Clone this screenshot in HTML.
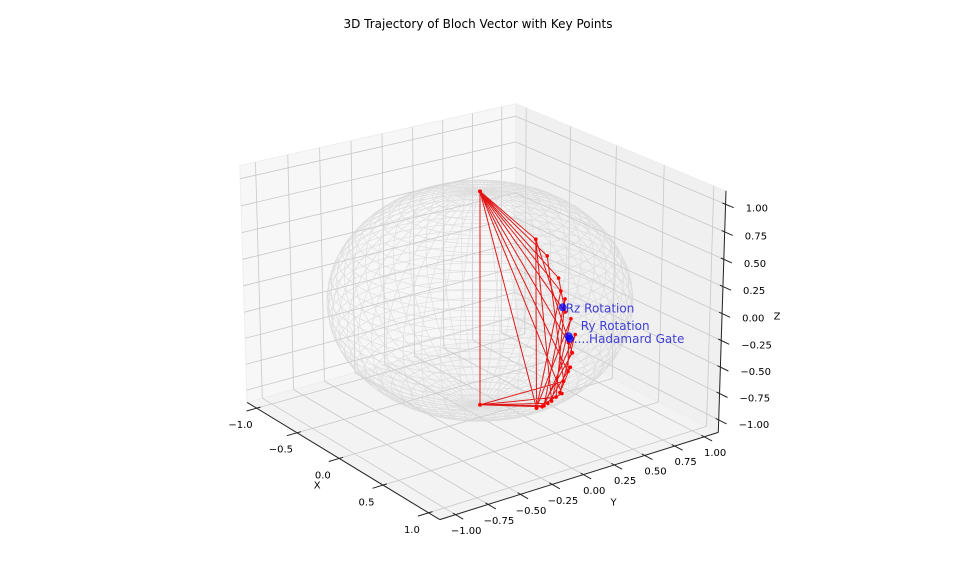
<!DOCTYPE html>
<html><head><meta charset="utf-8">
<style>
html,body{margin:0;padding:0;background:#fff;}
svg{display:block;font-family:"DejaVu Sans","Liberation Sans",sans-serif;}
</style></head>
<body>
<svg id="chart" width="956" height="564" viewBox="0 0 956 564">
<text x="478" y="28" text-anchor="middle" font-size="12" fill="#000">3D Trajectory of Bloch Vector with Key Points</text>
</svg>
<script>
// ---- data ----
const xTicks = [-1.0, -0.5, 0.0, 0.5, 1.0];
const xTickLabels = ["−1.0", "−0.5", "0.0", "0.5", "1.0"];
const yTicks = [-1.0, -0.75, -0.5, -0.25, 0.0, 0.25, 0.5, 0.75, 1.0];
const yTickLabels = ["−1.00", "−0.75", "−0.50", "−0.25", "0.00", "0.25", "0.50", "0.75", "1.00"];
const zTicks = [-1.0, -0.75, -0.5, -0.25, 0.0, 0.25, 0.5, 0.75, 1.0];
const zTickLabels = ["−1.00", "−0.75", "−0.50", "−0.25", "0.00", "0.25", "0.50", "0.75", "1.00"];
const trajX = [0,0.6,0.62,0,0.84,0.95,0,1.0,0.96,0,0.86,0.62,0,0.72,0.93,0,0,0.89,0.62,0.97,0.78,0.6,0.99,0.68,0,0.8,0.92,0.7,0.99,0.84,0.97,0.74,0,0.7];
const trajY = [0,0.0,0.0,0,0.0,-0.03,0,-0.04,-0.01,0,0.02,0.0,0,0.0,-0.02,0,0,-0.02,0.0,0,0.0,0.0,0,0.0,0,0.02,-0.01,0.0,0.02,0.02,0,0.0,0,0.0];
const trajZ = [1,0.8,-0.74,1,0.55,0.3,1,0.05,-0.24,1,-0.5,-0.74,1,0.7,-0.34,-1,1,0.46,-0.74,0.24,-0.6,0.8,-0.06,-0.7,-1,-0.56,0.4,-0.68,0.1,-0.5,-0.2,-0.64,-1,-0.68];
const keyNames = ["Rz Rotation", "Ry Rotation", "....Hadamard Gate"];
const keyX = [0.95, 0.99, 1.0];
const keyY = [-0.05, -0.03, -0.03];
const keyZ = [0.35, 0.1, 0.08];

// ---- projection ----
const L = 1.12, D = 17.5;
function rawProj(x,y,z,e,a){
  const W=[x/L, y/L, z/L*0.75];
  const ps=[Math.cos(e)*Math.cos(a), Math.cos(e)*Math.sin(a), Math.sin(e)];
  const eye=[D*ps[0],D*ps[1],D*ps[2]];
  let u=[-ps[1], ps[0], 0]; const n=Math.hypot(u[0],u[1]); u=[u[0]/n,u[1]/n,0];
  const v=[ps[1]*u[2]-ps[2]*u[1], ps[2]*u[0]-ps[0]*u[2], ps[0]*u[1]-ps[1]*u[0]];
  const p=[W[0]-eye[0],W[1]-eye[1],W[2]-eye[2]];
  const xv=p[0]*u[0]+p[1]*u[1]+p[2]*u[2];
  const yv=p[0]*v[0]+p[1]*v[1]+p[2]*v[2];
  const zv=p[0]*ps[0]+p[1]*ps[1]+p[2]*ps[2];
  return [xv/(-zv), yv/(-zv)];
}
const calib=[[-L,-L,-L,247,405],[L,-L,-L,446,522],[L,L,-L,718,433],[L,L,L,720,187],[-L,L,L,520,103],[-L,-L,L,240,158],[L,L,1,720,207],[L,L,-1,720,424]];
function fit(e,a){
  const n=calib.length; let sx=0,sy=0,sX=0,sY=0,sq=0,sc=0;
  const P=calib.map(c=>rawProj(c[0],c[1],c[2],e,a));
  P.forEach((p,i)=>{sx+=p[0];sy+=p[1];sX+=calib[i][3];sY+=calib[i][4];sq+=p[0]*p[0]+p[1]*p[1];sc+=p[0]*calib[i][3]-p[1]*calib[i][4];});
  const s=(sc-(sX*sx-sY*sy)/n)/(sq-(sx*sx+sy*sy)/n);
  const cx=(sX-s*sx)/n, cy=(sY+s*sy)/n;
  let err=0; P.forEach((p,i)=>{err+=(cx+s*p[0]-calib[i][3])**2+(cy-s*p[1]-calib[i][4])**2;});
  return {s,cx,cy,err};
}
let best=null;
for(let ed=12;ed<=32;ed+=0.5){for(let ad=-50;ad<=-20;ad+=0.5){
  const e=ed*Math.PI/180,a=ad*Math.PI/180; const f=fit(e,a);
  if(!best||f.err<best.err){best=Object.assign({e,a},f);}
}}
function P(x,y,z){const p=rawProj(x,y,z,best.e,best.a);return [best.cx+best.s*p[0], best.cy-best.s*p[1]];}

const svg=document.getElementById('chart');
const NS='http://www.w3.org/2000/svg';
function mk(tag,attrs,parent){const el=document.createElementNS(NS,tag);for(const k in attrs)el.setAttribute(k,attrs[k]);(parent||svg).appendChild(el);return el;}
function poly(pts){return pts.map(p=>p[0].toFixed(1)+','+p[1].toFixed(1)).join(' ');}

// panes
const gP=mk('g',{});


const paneL=mk('polygon',{points:poly([P(-L,-L,-L),P(-L,L,-L),P(-L,L,L),P(-L,-L,L)]),fill:'#f7f7f7',stroke:'#eeeeee'},gP);


const paneR=mk('polygon',{points:poly([P(-L,L,-L),P(L,L,-L),P(L,L,L),P(-L,L,L)]),fill:'#f0f0f0',stroke:'#eeeeee'},gP);


const paneF=mk('polygon',{points:poly([P(-L,-L,-L),P(L,-L,-L),P(L,L,-L),P(-L,L,-L)]),fill:'#f3f3f3',stroke:'#eeeeee'},gP);



// grid
const gG=mk('g',{stroke:'#c8c8c8','stroke-width':0.8,fill:'none'});


function seg(a,b,parent,attrs){const l=mk('line',Object.assign({x1:a[0].toFixed(1),y1:a[1].toFixed(1),x2:b[0].toFixed(1),y2:b[1].toFixed(1)},attrs||{}),parent);return l;}
yTicks.forEach(y=>{const l=seg(P(-L,y,-L),P(-L,y,L),gG);
  const f=seg(P(-L,y,-L),P(L,y,-L),gG);});
xTicks.forEach(x=>{const l=seg(P(x,L,-L),P(x,L,L),gG);
  const f=seg(P(x,-L,-L),P(x,L,-L),gG);});
zTicks.forEach(z=>{const l=seg(P(-L,-L,z),P(-L,L,z),gG);
  const r=seg(P(-L,L,z),P(L,L,z),gG);});

// axes lines
const gA=mk('g',{stroke:'#222','stroke-width':1,fill:'none'});


const ax=seg(P(-L,-L,-L),P(L,-L,-L),gA);
const ay=seg(P(L,-L,-L),P(L,L,-L),gA);
const az=seg(P(L,L,-L),P(L,L,L),gA);

function txt(x,y,s,anchor,size,name){const t=mk('text',{x:x.toFixed(1),y:y.toFixed(1),'text-anchor':anchor,'font-size':size,fill:'#000'});t.textContent=s;return t;}
xTicks.forEach((x,i)=>{const a=P(x,-L+0.03,-L),b=P(x,-L-0.08,-L);const t=seg(a,b,gA);
  txt(b[0]-6,b[1]+17,xTickLabels[i],'middle',10,'x-tick-label');});
yTicks.forEach((y,i)=>{const a=P(L-0.03,y,-L),b=P(L+0.08,y,-L);const t=seg(a,b,gA);
  txt(b[0]+3,b[1]+15,yTickLabels[i],'middle',10,'y-tick-label');});
zTicks.forEach((z,i)=>{const a=P(L-0.03,L,z),b=P(L+0.08,L,z);const t=seg(a,b,gA);
  txt(b[0]+12,b[1]+4,zTickLabels[i],'start',10,'z-tick-label');});
const xl=P(0,-L,-L);txt(xl[0]-22,xl[1]+30,'X','middle',10,'x-axis-title');
const yl=P(L,0,-L);txt(yl[0]+30,yl[1]+31,'Y','middle',10,'y-axis-title');
const zl=P(L,L,0);txt(zl[0]+55,zl[1]+6,'Z','middle',10,'z-axis-title');

// sphere wireframe
const gS=mk('g',{stroke:'#d4d4d4','stroke-width':0.7,fill:'none',opacity:0.7});


const NU=50,NV=40;
for(let i=0;i<NU;i++){const u=2*Math.PI*i/NU;const pts=[];for(let j=0;j<=40;j++){const v=Math.PI*j/40;pts.push(P(Math.cos(u)*Math.sin(v),Math.sin(u)*Math.sin(v),Math.cos(v)));}
  const pl=mk('polyline',{points:poly(pts)},gS);}
for(let j=1;j<NV;j++){const v=Math.PI*j/NV;const pts=[];for(let i=0;i<=60;i++){const u=2*Math.PI*i/60;pts.push(P(Math.cos(u)*Math.sin(v),Math.sin(u)*Math.sin(v),Math.cos(v)));}
  const pl=mk('polyline',{points:poly(pts)},gS);}

// trajectory
const gT=mk('g',{});


const tp=trajX.map((x,i)=>P(x,trajY[i],trajZ[i]));
const tl=mk('polyline',{points:poly(tp),fill:'none',stroke:'#e00000','stroke-width':1,opacity:0.9},gT);


tp.forEach(p=>{const c=mk('circle',{cx:p[0].toFixed(1),cy:p[1].toFixed(1),r:1.8,fill:'#ff0000'},gT);
  
  });

// key points
const gK=mk('g',{});


const labelDx=[3,12,4], labelDy=[5,-6,4];
keyNames.forEach((nm,i)=>{const p=P(keyX[i],keyY[i],keyZ[i]);
  const c=mk('circle',{cx:p[0].toFixed(1),cy:p[1].toFixed(1),r:4,fill:'#0000ff',opacity:0.75},gK);
  
  
  const t=mk('text',{x:(p[0]+labelDx[i]).toFixed(1),y:(p[1]+labelDy[i]).toFixed(1),'font-size':12,fill:'#2020d0','fill-opacity':0.85},gK);
  t.textContent=nm;
  
  });
</script>
</body></html>
